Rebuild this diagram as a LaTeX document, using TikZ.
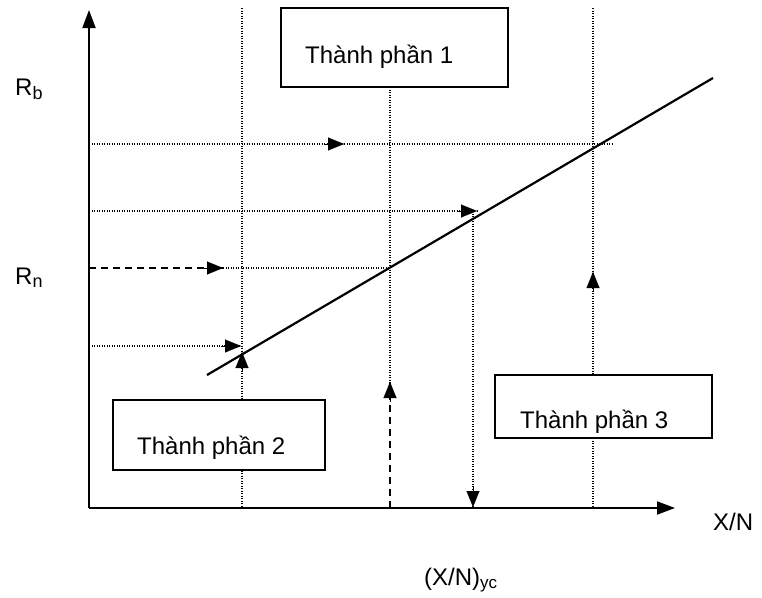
\documentclass[tikz,border=0pt]{standalone}
\usepackage{fontspec}
\setmainfont{Liberation Sans}
\usetikzlibrary{arrows.meta}
\tikzset{
  axis/.style={line width=1.8pt,-{Triangle[length=18pt,width=13pt]}},
  dotline/.style={line width=1.5pt,dash pattern=on 1.4pt off 1.1pt},
  dashline/.style={line width=2pt,dash pattern=on 7pt off 5pt},
  solidline/.style={line width=2.2pt},
  box/.style={draw,line width=2.2pt,fill=white,inner sep=0pt},
  tip/.style={line width=0.1pt,-{Triangle[length=16pt,width=13pt]}},
  lbl/.style={inner sep=0pt,font=\fontsize{24}{28}\selectfont},
}
\begin{document}
\begin{tikzpicture}[x=1pt,y=-1pt]
\useasboundingbox (0,0) rectangle (762,597);
% key points
\coordinate (O) at (89,508);
\coordinate (Ytop) at (89,10);
\coordinate (Xend) at (675,508);
\coordinate (L0) at (207,375);
\coordinate (L1) at (713,78);
% vertical guide lines
\coordinate (v1t) at (242,8);   \coordinate (v1b) at (242,508);
\coordinate (v2t) at (390,87);  \coordinate (v2m) at (390,382); \coordinate (v2b) at (390,508);
\coordinate (v3t) at (473,211); \coordinate (v3b) at (473,507);
\coordinate (v4t) at (593,8);   \coordinate (v4b) at (593,508);
% horizontal guide lines
\coordinate (h1a) at (89,144);  \coordinate (h1b) at (612,144);
\coordinate (h2a) at (89,211);  \coordinate (h2b) at (477,211);
\coordinate (h3a) at (89,268);  \coordinate (h3m) at (223,268); \coordinate (h3b) at (390,268);
\coordinate (h4a) at (89,346);  \coordinate (h4b) at (241,346);

\draw[dotline] (v1t) -- (v1b);
\draw[dotline] (v2t) -- (v2m);
\draw[dashline] (v2b) -- (v2m);
\draw[dotline] (v3t) -- (v3b);
\draw[dotline] (v4t) -- (v4b);
\draw[dotline] (h1a) -- (h1b);
\draw[dotline] (h2a) -- (h2b);
\draw[dashline] (h3a) -- (h3m);
\draw[dotline] (h3m) -- (h3b);
\draw[dotline] (h4a) -- (h4b);

% arrowheads on guide lines
\draw[tip] (324,144) -- (344,144);
\draw[tip] (457,211) -- (h2b);
\draw[tip] (203,268) -- (h3m);
\draw[tip] (221,346) -- (h4b);
\draw[tip] (242,372) -- (242,352);
\draw[tip] (390,402) -- (v2m);
\draw[tip] (473,487) -- (v3b);
\draw[tip] (593,292) -- (593,272);

% main line
\draw[solidline] (L0) -- (L1);

% axes
\draw[axis] (O) -- (Ytop);
\draw[axis] (O) -- (Xend);

% boxes
\node[box,minimum width=227pt,minimum height=79pt] (b1) at (394.5,47.5) {};
\node[box,minimum width=212pt,minimum height=70pt] (b2) at (219,435) {};
\node[box,minimum width=217pt,minimum height=63pt] (b3) at (603.5,406.5) {};
\node[lbl,anchor=base west] (t1) at (305,63) {Thành phần 1};
\node[lbl,anchor=base west] (t2) at (137,454) {Thành phần 2};
\node[lbl,anchor=base west] (t3) at (520,428) {Thành phần 3};

% axis labels
\node[lbl,anchor=base west] (rb) at (15,95) {R\textsubscript{\fontsize{18}{20}\selectfont b}};
\node[lbl,anchor=base west] (rn) at (15,284) {R\textsubscript{\fontsize{18}{20}\selectfont n}};
\node[lbl,anchor=base west] (xn) at (713,530) {X/N};
\node[lbl,anchor=base west] (xnyc) at (424,585) {(X/N)\textsubscript{\fontsize{17}{19}\selectfont yc}};
\end{tikzpicture}
\end{document}
